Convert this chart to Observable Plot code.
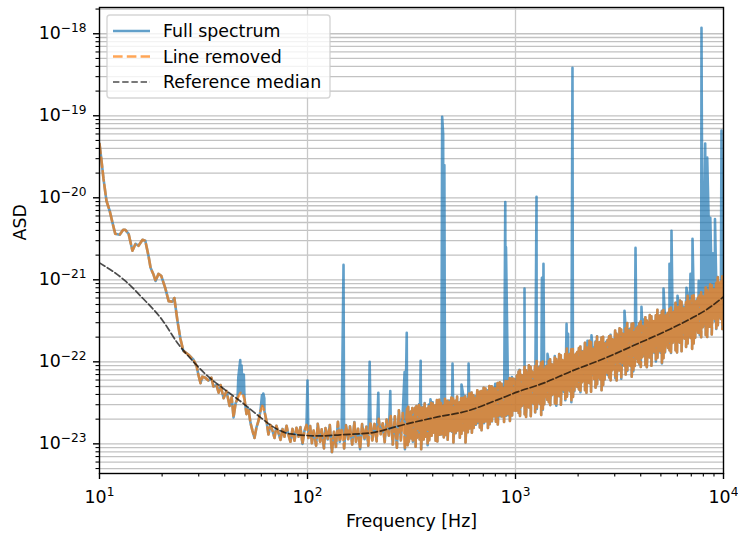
<!DOCTYPE html>
<html>
<head>
<meta charset="utf-8">
<script src="https://cdn.jsdelivr.net/npm/d3@7"></script>
<script src="https://cdn.jsdelivr.net/npm/@observablehq/plot@0.6"></script>
<style>
  html, body { margin: 0; padding: 0; background: #ffffff; }
  #chart { width: 738px; height: 536px; position: relative; }
</style>
</head>
<body>
<div id="chart"></div>
<script>
// ---------------- data ----------------
// "Line removed" trace, 10 Hz - 100 Hz  [frequency Hz, ASD]
const lowBand = [
  [10,4.56e-20],[10.2,2.99e-20],[10.45,1.71e-20],[10.8,9.2e-21],[11.2,6.9e-21],[11.55,4.95e-21],
  [11.9,3.64e-21],[12.5,3.54e-21],[13.0,4.07e-21],[13.3,4.07e-21],[13.8,3.64e-21],[14.4,2.26e-21],
  [14.9,2.75e-21],[15.4,2.6e-21],[16.1,3.08e-21],[16.6,3.0e-21],[17.2,1.96e-21],[17.6,1.4e-21],
  [18.2,1.15e-21],[18.6,9.7e-22],[19.2,1.18e-21],[19.8,1.12e-21],[20.7,7.98e-22],[21.5,5.5e-22],
  [22.4,5.4e-22],[22.9,6.0e-22],[23.7,3.16e-22],[24.5,1.9e-22],[25.3,1.36e-22],[26.8,1.22e-22],
  [28.3,1.06e-22],[29.3,8.9e-23],[29.9,6.9e-23],[30.6,5.5e-23],[31.2,6.6e-23],[32.3,6.4e-23],
  [33.4,5.9e-23],[34.5,6.4e-23],[35.3,5.0e-23],[36.5,5.2e-23],[37.4,4.2e-23],[38.2,5.2e-23],
  [39.5,3.6e-23],[40.8,4.4e-23],[42.2,2.9e-23],[43.2,3.7e-23],[44.1,2.1e-23],[45.1,3.1e-23],
  [46.1,3.6e-23],[47.6,4.2e-23],[48.7,4.1e-23],[49.8,3.5e-23],[50.9,2.3e-23],[52.0,2.7e-23],
  [53.2,1.8e-23],[54.4,1.44e-23],[55.6,1.18e-23],[56.9,1.6e-23],[58.1,1.9e-23],[59.4,2.5e-23],
  [60.7,2.9e-23],[62.1,2.5e-23],[63.5,1.9e-23],[64.9,1.3e-23],[66.4,1.7e-23],[67.9,1.44e-23],
  [69.4,1.18e-23],[70.9,1.66e-23],[72.5,1.36e-23],[74.2,1.12e-23],[75.8,1.52e-23],[77.5,1.22e-23],
  [79.3,1.66e-23],[81.0,1.29e-23],[82.8,1.06e-23],[84.7,1.52e-23],[86.6,1.09e-23],[88.5,1.57e-23],
  [90.5,1.22e-23],[92.5,1.6e-23],[94.6,1.0e-23],[96.7,1.44e-23],[98.9,1.7e-23],[101,1.18e-23]
];
// "Line removed" trace, 100 Hz - 1 kHz
const midBand = [
  [103,1.65e-23],[105,1.02e-23],[107,1.45e-23],[110,0.95e-23],[112,1.75e-23],[115,1.06e-23],
  [117,1.5e-23],[120,0.88e-23],[122,1.56e-23],[125,1.13e-23],[128,1.7e-23],[131,0.79e-23],
  [134,1.4e-23],[137,0.92e-23],[140,1.86e-23],[143,1.06e-23],[146,1.55e-23],[150,0.88e-23],
  [153,1.69e-23],[157,1.14e-23],[160,1.64e-23],[164,0.98e-23],[168,1.85e-23],[171,1.06e-23],
  [175,1.53e-23],[179,0.86e-23],[183,1.74e-23],[188,1.14e-23],[192,1.62e-23],[196,0.95e-23],
  [201,1.84e-23],[205,1.1e-23],[210,1.75e-23],[215,1.07e-23],[220,2.02e-23],[225,1.31e-23],
  [230,1.78e-23],[235,1.05e-23],[240,1.98e-23],[246,1.26e-23],[251,2.26e-23],[257,0.98e-23],
  [263,2.16e-23],[269,0.9e-23],[275,2.56e-23],[281,1.1e-23],[287,2.38e-23],[294,0.86e-23],
  [301,2.78e-23],[303,0.96e-23],[305,2.83e-23],[307,1.06e-23],[314,2.47e-23],[316,1.16e-23],
  [319,2.73e-23],[321,1.06e-23],[329,2.76e-23],[331,0.92e-23],[334,2.88e-23],[336,1.19e-23],
  [344,3.06e-23],[346,1.13e-23],[351,2.77e-23],[352,0.86e-23],[360,2.81e-23],[362,1.13e-23],
  [366,3.14e-23],[368,1.22e-23],[376,2.69e-23],[378,0.96e-23],[383,3.02e-23],[385,1.11e-23],
  [393,3.16e-23],[395,1.26e-23],[400,3.21e-23],[402,1.37e-23],[411,2.94e-23],[413,1.09e-23],
  [419,3.41e-23],[421,1.07e-23],[430,3.44e-23],[432,1.29e-23],[438,3.15e-23],[440,1.3e-23],
  [450,3.02e-23],[452,1.2e-23],[458,3.54e-23],[460,1.28e-23],[470,3.35e-23],[472,1.12e-23],
  [479,3.38e-23],[481,1.44e-23],[492,3.68e-23],[494,1.41e-23],[501,3.57e-23],[503,1.04e-23],
  [514,3.36e-23],[516,1.35e-23],[524,3.76e-23],[526,1.46e-23],[538,3.21e-23],[540,1.19e-23],
  [548,3.62e-23],[550,1.33e-23],[562,3.8e-23],[564,1.47e-23],[573,3.84e-23],[575,1.04e-23],
  [588,3.53e-23],[590,1.39e-23],[599,4.11e-23],[601,1.54e-23],[615,4.21e-23],[617,1.37e-23],
  [627,3.9e-23],[629,1.56e-23],[643,3.8e-23],[645,1.71e-23],[655,4.5e-23],[657,1.8e-23],
  [672,4.31e-23],[674,1.58e-23],[685,4.4e-23],[687,1.47e-23],[703,4.84e-23],[705,1.79e-23],
  [717,4.73e-23],[719,1.89e-23],[735,4.51e-23],[737,1.56e-23],[749,5.07e-23],[751,1.74e-23],
  [768,5.02e-23],[770,1.88e-23],[784,4.8e-23],[786,2.18e-23],[803,4.73e-23],[805,1.86e-23],
  [820,5.5e-23],[822,1.72e-23],[840,5.63e-23],[842,2.18e-23],[857,5.4e-23],[859,2.16e-23],
  [879,5.09e-23],[881,1.85e-23],[896,5.84e-23],[898,2.19e-23],[919,5.79e-23],[921,2.24e-23],
  [938,6.32e-23],[940,1.9e-23],[961,6.54e-23],[963,2.22e-23],[980,6.2e-23],[982,2.56e-23],
  [1000,6.1e-23],[1002,2.53e-23]
];
// "Line removed" trace, 1 kHz - 10 kHz
const highBand = [
  [1015,6.82e-23],[1017,2.56e-23],[1034,7.56e-23],[1036,2.38e-23],[1049,7.88e-23],[1051,2.19e-23],
  [1069,6.88e-23],[1071,2.89e-23],[1085,6.75e-23],[1087,2.97e-23],[1105,8.68e-23],[1107,2.29e-23],
  [1122,7.89e-23],[1124,2.13e-23],[1143,7.54e-23],[1145,2.83e-23],[1160,9.06e-23],[1162,2.77e-23],
  [1182,8.71e-23],[1184,2.18e-23],[1200,7.6e-23],[1202,3.43e-23],[1222,7.47e-23],[1224,3.09e-23],
  [1241,8.84e-23],[1243,2.42e-23],[1264,10.2e-23],[1266,2.66e-23],[1283,8.58e-23],[1285,3.22e-23],
  [1307,8.7e-23],[1309,3.06e-23],[1327,9.9e-23],[1329,2.25e-23],[1351,10.1e-23],[1353,2.61e-23],
  [1372,8.3e-23],[1374,3.04e-23],[1397,8.74e-23],[1399,3.72e-23],[1419,9.18e-23],[1421,3.44e-23],
  [1445,10.2e-23],[1447,3.21e-23],[1467,10.7e-23],[1469,2.97e-23],[1494,9.35e-23],[1496,3.92e-23],
  [1517,9.2e-23],[1519,4.05e-23],[1545,11.8e-23],[1547,3.12e-23],[1569,10.8e-23],[1571,2.91e-23],
  [1597,10.3e-23],[1599,3.86e-23],[1622,12.4e-23],[1624,3.8e-23],[1651,12.0e-23],[1653,3.0e-23],
  [1677,10.5e-23],[1679,4.76e-23],[1707,10.4e-23],[1709,4.3e-23],[1734,12.4e-23],[1736,3.4e-23],
  [1765,14.5e-23],[1767,3.76e-23],[1793,12.2e-23],[1795,4.58e-23],[1825,12.4e-23],[1827,4.36e-23],
  [1854,14.2e-23],[1856,3.22e-23],[1887,14.4e-23],[1889,3.74e-23],[1917,11.9e-23],[1919,4.37e-23],
  [1951,12.5e-23],[1953,5.34e-23],[1982,13.2e-23],[1984,4.94e-23],[2018,14.7e-23],[2020,4.61e-23],
  [2050,15.4e-23],[2052,4.27e-23],[2086,13.5e-23],[2088,5.64e-23],[2119,13.3e-23],[2121,5.83e-23],
  [2157,17.1e-23],[2159,4.5e-23],[2191,15.6e-23],[2193,4.21e-23],[2230,14.9e-23],[2232,5.58e-23],
  [2266,18.0e-23],[2268,5.49e-23],[2306,17.3e-23],[2308,4.33e-23],[2343,15.2e-23],[2345,6.85e-23],
  [2385,14.9e-23],[2387,6.17e-23],[2423,17.7e-23],[2425,4.85e-23],[2466,20.5e-23],[2468,5.34e-23],
  [2505,17.2e-23],[2507,6.45e-23],[2550,17.4e-23],[2552,6.12e-23],[2591,19.8e-23],[2593,4.5e-23],
  [2636,20.2e-23],[2638,5.23e-23],[2679,16.7e-23],[2681,6.1e-23],[2726,17.5e-23],[2728,7.46e-23],
  [2770,18.4e-23],[2772,6.9e-23],[2818,20.5e-23],[2820,6.44e-23],[2864,21.4e-23],[2866,5.95e-23],
  [2914,18.8e-23],[2916,7.9e-23],[2961,18.6e-23],[2963,8.18e-23],[3013,24.0e-23],[3016,6.33e-23],
  [3061,21.9e-23],[3064,5.93e-23],[3116,21.1e-23],[3119,7.92e-23],[3165,25.7e-23],[3168,7.83e-23],
  [3222,24.8e-23],[3225,6.21e-23],[3273,21.9e-23],[3276,9.87e-23],[3331,21.6e-23],[3334,8.93e-23],
  [3384,25.6e-23],[3387,7.03e-23],[3444,29.8e-23],[3447,7.75e-23],[3499,25.0e-23],[3502,9.39e-23],
  [3561,25.4e-23],[3564,8.93e-23],[3618,29.0e-23],[3621,6.59e-23],[3682,29.5e-23],[3685,7.66e-23],
  [3741,24.3e-23],[3744,8.91e-23],[3807,25.5e-23],[3810,10.9e-23],[3868,26.7e-23],[3871,10.0e-23],
  [3937,29.8e-23],[3940,9.35e-23],[4000,31.1e-23],[4003,8.65e-23],[4070,27.4e-23],[4073,11.5e-23],
  [4136,27.0e-23],[4139,11.9e-23],[4209,34.9e-23],[4212,9.18e-23],[4277,31.8e-23],[4280,8.6e-23],
  [4352,30.6e-23],[4355,11.5e-23],[4422,37.1e-23],[4425,11.3e-23],[4500,35.8e-23],[4503,8.96e-23],
  [4573,31.5e-23],[4576,14.2e-23],[4653,31.1e-23],[4656,12.8e-23],[4728,36.9e-23],[4731,10.1e-23],
  [4811,43.0e-23],[4814,11.2e-23],[4889,36.1e-23],[4892,13.6e-23],[4974,36.8e-23],[4977,12.9e-23],
  [5055,42.0e-23],[5058,9.53e-23],[5143,42.9e-23],[5146,11.1e-23],[5227,35.6e-23],[5230,13.0e-23],
  [5318,37.4e-23],[5321,15.9e-23],[5405,39.4e-23],[5408,14.8e-23],[5499,43.9e-23],[5502,13.8e-23],
  [5588,45.9e-23],[5591,12.8e-23],[5686,40.6e-23],[5689,17.0e-23],[5778,40.4e-23],[5781,17.8e-23],
  [5879,52.4e-23],[5882,13.8e-23],[5975,48.1e-23],[5978,13.0e-23],[6078,46.2e-23],[6081,17.3e-23],
  [6178,55.9e-23],[6181,17.1e-23],[6285,53.8e-23],[6288,13.5e-23],[6388,47.1e-23],[6391,21.3e-23],
  [6499,46.5e-23],[6502,19.2e-23],[6605,55.3e-23],[6608,15.2e-23],[6720,64.6e-23],[6723,16.8e-23],
  [6830,54.5e-23],[6833,20.5e-23],[6948,55.6e-23],[6951,19.5e-23],[7062,63.6e-23],[7065,14.4e-23],
  [7184,64.9e-23],[7187,16.8e-23],[7302,53.9e-23],[7305,19.7e-23],[7428,57.0e-23],[7431,24.3e-23],
  [7550,60.5e-23],[7553,22.7e-23],[7680,67.9e-23],[7683,21.3e-23],[7807,71.6e-23],[7810,19.9e-23],
  [7941,62.9e-23],[7944,26.4e-23],[8072,62.3e-23],[8075,27.4e-23],[8211,80.9e-23],[8214,21.3e-23],
  [8346,74.5e-23],[8349,20.1e-23],[8490,71.8e-23],[8493,26.9e-23],[8630,88.0e-23],[8633,26.9e-23],
  [8778,86.0e-23],[8781,21.5e-23],[8923,76.4e-23],[8926,34.5e-23],[9076,76.2e-23],[9079,31.5e-23],
  [9226,91.5e-23],[9229,25.1e-23],[9385,108e-23],[9388,28.0e-23],[9540,91.6e-23],[9543,34.4e-23],
  [9704,95.0e-23],[9707,33.4e-23],[9864,110e-23],[9867,25.1e-23],[9997,29.8e-23],[10000,115e-23]
];
// Spectral lines present only in the full spectrum
const spikes = [
  [46.5,6.5e-23],[47.5,1.05e-22],[48.2,9e-23],[48.8,5.5e-23],[49.4,7e-23],
  [60.4,3.9e-23],[61.3,4.1e-23],[62.0,3.6e-23],
  [100,5.9e-23],[149,1.52e-21],[199,1.0e-22],[219,4.2e-23],[250,4.4e-23],
  [293,7.5e-23],[300,2.26e-22],[350,1.03e-22],[390,3.5e-23],
  [444,9.7e-20],[449,5.9e-20],[455,2.5e-20],[498,9.5e-23],[550,5.3e-23],[595,9.5e-23],
  [799,5.4e-23],[893,8.9e-21],[900,2.5e-21],[1045,8e-23],[1105,7.8e-22],[1262,1.03e-20],
  [1340,1.06e-21],[1363,1.57e-21],[1425,1.25e-22],[1760,2.9e-22],[1790,2.2e-22],[1879,3.85e-19],
  [2219,1.8e-22],[2319,2.1e-22],[3342,4.2e-22],[3776,2.45e-21],[4033,4.7e-22],[4100,3.3e-22],
  [5148,7.8e-22],[5500,1.57e-21],[5623,3.96e-21],[6011,6.4e-22],[6637,8e-22],[6939,1.18e-21],
  [7096,3.16e-21],[7600,9.7e-22],[7838,1.18e-18],[7860,1.4e-19],[7950,4.7e-21],[8010,5.7e-21],
  [8080,5.0e-21],[8165,4.6e-20],[8260,5.5e-21],[8350,3.1e-20],[8480,5.7e-21],[8560,5.4e-21],
  [8640,5.7e-21],[8900,2.1e-21],[9100,5.5e-21],[9780,6.6e-20]
];
// Reference median curve
const referenceMedian = [
  [10,1.61e-21],[13.3,9.7e-22],[16.1,6.0e-22],[20.1,3.2e-22],[23.7,1.7e-22],[28,1.03e-22],
  [32.3,7.1e-23],[39.5,4.7e-23],[49.2,3.1e-23],[59.4,2.1e-23],[71.8,1.5e-23],[82.8,1.32e-23],
  [115,1.25e-23],[144,1.29e-23],[201,1.36e-23],[289,1.71e-23],[422,2.13e-23],[587,2.52e-23],
  [818,3.44e-23],[1023,4.3e-23],[1364,5.5e-23],[1838,7.6e-23],[2648,1.09e-22],[3860,1.66e-22],
  [5560,2.52e-22],[6935,3.34e-22],[8370,4.4e-22],[10000,6.2e-22]
];
// axes
const xMajor = [10, 100, 1000, 10000];
const xDecades = [10, 100, 1000];
const yMajor = [1e-23, 1e-22, 1e-21, 1e-20, 1e-19, 1e-18];
const yDecades = [1e-24, 1e-23, 1e-22, 1e-21, 1e-20, 1e-19, 1e-18];
const minorMultipliers = [2, 3, 4, 5, 6, 7, 8, 9];
const xDomain = [10, 10000];
const yDomain = [4.35e-24, 2.09e-18];
const legendLabels = ["Full spectrum", "Line removed", "Reference median"];
const xLabel = "Frequency [Hz]";
const yLabel = "ASD";

// ---------------- build ----------------
const lineRemoved = [...lowBand, ...midBand, ...highBand];
const fullSpectrum = [...lineRemoved, ...spikes].sort((a, b) => a[0] - b[0]);
const xMinor = xDecades.flatMap(d => minorMultipliers.map(m => m * d));
const yMinor = yDecades.flatMap(d => minorMultipliers.map(m => m * d))
  .filter(v => v >= yDomain[0] && v <= yDomain[1]);
const yGrid = [...yMajor, ...yMinor];

const FS = 17.4;
const FONT = "DejaVu Sans";
const supFmt = d => "10^" + String(Math.round(Math.log10(d))).replace("-", "\u2212");

const blue = "#1f77b4", orange = "#ff7f0e";

const svg = Plot.plot({
  width: 738,
  height: 536,
  marginLeft: 99,
  marginRight: 15,
  marginTop: 7,
  marginBottom: 63,
  style: {fontFamily: FONT, fontSize: FS + "px", background: "#ffffff", color: "black"},
  x: {type: "log", domain: xDomain, label: null},
  y: {type: "log", domain: yDomain, label: null},
  marks: [
    Plot.gridY(yGrid, {stroke: "#c2c2c2", strokeOpacity: 1, strokeWidth: 1.3}),
    Plot.gridX([100, 1000], {stroke: "#c8c8c8", strokeOpacity: 1, strokeWidth: 1.3}),
    Plot.line(fullSpectrum, {x: d => d[0], y: d => d[1], stroke: blue, strokeOpacity: 0.7, strokeWidth: 2.6, clip: true}),
    Plot.line(lineRemoved, {x: d => d[0], y: d => d[1], stroke: orange, strokeOpacity: 0.7, strokeWidth: 2.6, strokeDasharray: "9.6,4.2", clip: true}),
    Plot.line(referenceMedian, {x: d => d[0], y: d => d[1], stroke: "black", strokeOpacity: 0.7, strokeWidth: 1.7, strokeDasharray: "6.4,2.8", curve: "monotone-x", clip: true}),
    Plot.axisY(yMajor, {tickSize: 6, tickPadding: 7, tickFormat: supFmt, label: null, fontSize: FS, strokeWidth: 1.4}),
    Plot.axisY(yMinor, {tickSize: 3.5, tickFormat: () => "", label: null, strokeWidth: 1.1}),
    Plot.axisX(xMajor, {tickSize: 6, tickPadding: 11.5, tickFormat: supFmt, label: null, fontSize: FS, strokeWidth: 1.4}),
    Plot.axisX(xMinor, {tickSize: 3.5, tickFormat: () => "", label: null, strokeWidth: 1.1}),
    Plot.frame({stroke: "black", strokeWidth: 1.4}),
    Plot.text([xLabel], {text: d => d, frameAnchor: "bottom", dy: 53, lineAnchor: "bottom", fontSize: FS, fill: "black"}),
    Plot.text([yLabel], {text: d => d, frameAnchor: "left", dx: -73.5, rotate: -90, lineAnchor: "bottom", fontSize: FS, fill: "black"})
  ]
});

// superscript exponents in tick labels
d3.select(svg).selectAll("text").each(function () {
  const t = this.textContent;
  const m = /^10\^(.+)$/.exec(t);
  if (m) {
    const s = d3.select(this);
    s.text("10");
    s.append("tspan").attr("dy", -7).attr("font-size", (FS * 0.7).toFixed(1) + "px").text(m[1]);
  }
});

// legend (inside the axes, upper left)
const lg = d3.select(svg).append("g")
  .attr("font-family", FONT).attr("font-size", FS).attr("text-anchor", "start");
lg.append("rect").attr("x", 107).attr("y", 15).attr("width", 223).attr("height", 83).attr("rx", 3)
  .style("fill", "white").style("fill-opacity", 0.8)
  .style("stroke", "#cccccc").style("stroke-opacity", 0.8).style("stroke-width", 1.4);
const legendStyles = [
  {stroke: blue, opacity: 0.7, width: 2.6, dash: "none"},
  {stroke: orange, opacity: 0.7, width: 2.6, dash: "9.6,4.2"},
  {stroke: "black", opacity: 0.7, width: 1.7, dash: "6.4,2.8"}
];
legendLabels.forEach((label, i) => {
  const yLine = 31 + i * 25.5;
  const st = legendStyles[i];
  lg.append("path")
    .attr("d", `M113,${yLine}H150`)
    .style("fill", "none")
    .style("stroke", st.stroke)
    .style("stroke-opacity", st.opacity)
    .style("stroke-width", st.width)
    .style("stroke-dasharray", st.dash);
  lg.append("text").attr("x", 163).attr("y", yLine + 6.2)
    .style("fill", "black").style("text-anchor", "start").text(label);
});

document.getElementById("chart").appendChild(svg);
</script>
</body>
</html>
